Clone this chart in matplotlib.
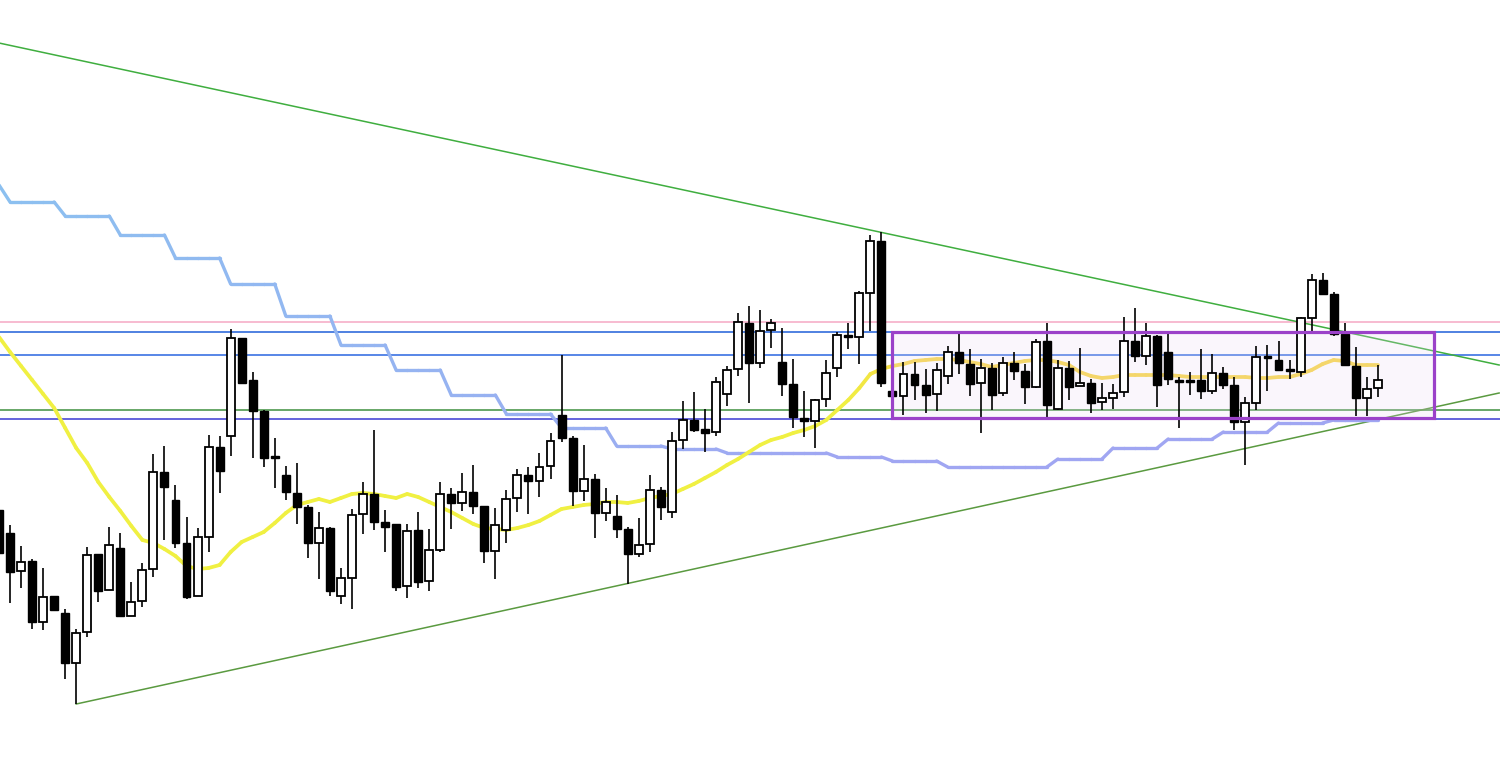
import matplotlib
matplotlib.use("Agg")
import matplotlib.pyplot as plt
from matplotlib.patches import Rectangle
from matplotlib.collections import LineCollection
import numpy as np

# candle prices (open, high, low, close), one entry per bar
opens = [290, 267, 229, 239, 178, 204, 187, 137, 168, 246, 210, 252, 184, 199, 231, 328, 300, 257, 204, 263,
         353, 364, 462, 420, 389, 343.5, 325, 307, 293, 257, 272, 204, 222, 286, 306, 278, 276, 214, 270, 219,
         250, 306, 297, 308, 294, 249, 270, 302, 325, 319, 334, 385, 362, 309, 321, 287, 284, 271, 246, 256,
         310, 288, 360, 380, 371, 368, 406, 431, 477, 437, 470, 438, 416, 382, 379, 401, 432, 464.5, 463, 507,
         559, 409, 404, 426, 415, 406, 424, 448, 436, 417, 432, 407, 437, 429, 413, 459, 391, 432, 414, 417,
         398, 402, 408, 459, 444, 464, 448, 419.5, 419.5, 420, 409, 427, 415, 378, 397, 443.5, 440, 430.5, 428, 482,
         520, 506, 466, 434, 402, 412]
highs = [292, 275, 254, 241, 232, 204, 191, 171, 253, 246, 273, 267, 218, 237, 346, 354, 315, 283, 272, 365,
         364, 471, 462, 428, 390, 362, 334, 337, 295, 288, 273, 232, 291, 318, 370, 290, 276, 276, 288, 271,
         318, 312, 327, 335, 294, 292, 310, 331, 333, 347, 367, 445, 364, 355, 326, 312, 305, 273, 282, 325,
         313, 368, 399, 408, 391, 423, 434, 487, 494, 490, 481, 472, 441, 409, 401, 440, 468, 477, 509, 565,
         568, 409, 438, 438, 431, 437, 454, 466, 451, 441, 437, 443, 448, 436, 461, 477, 440, 439, 452, 421,
         417, 416, 483, 492, 477, 465, 467, 423, 428, 451, 446, 433, 423, 403, 454, 455, 459, 440, 483, 526,
         527, 508, 477, 453, 423, 435]
lows = [247, 197, 212, 171, 170, 190, 121, 96, 163, 198, 210, 184, 184, 193, 223, 260, 252, 201, 204, 248,
        307, 344, 417, 342, 333, 312, 300, 276, 242, 221, 204, 196, 191, 266, 270, 248, 209, 202, 212, 209,
        248, 271, 289, 286, 237, 221, 257, 288, 286, 303, 321, 358, 294, 299, 262, 279, 262, 216, 243, 248,
        280, 282, 351, 368, 348, 364, 394, 424, 397, 432, 452, 404, 372, 363, 352, 393, 423, 451, 436, 469,
        413, 404, 385, 400, 387, 389, 416, 426, 404, 367, 390, 404, 420, 396, 412, 383, 390, 400, 414, 387,
        390, 391, 403, 438, 435, 393, 415, 372, 405, 401, 406, 411, 370, 335, 390, 409, 430, 421, 423, 469,
        506, 464, 434, 384, 384, 403]
closes = [247, 228, 238, 178, 203, 190, 137, 167, 245, 209, 255, 184, 198, 230, 328, 313, 257, 203, 263, 353,
          329, 462, 417, 389, 342, 342.5, 308, 293, 257, 272, 209, 222, 285, 306, 278, 273, 213, 269, 218, 250,
          306, 297, 308, 294, 249, 275, 301, 325, 319, 333, 359, 362, 309, 321, 287, 298, 271, 246, 255, 310,
          293, 359, 380, 370, 367, 418, 430, 478, 437, 469, 477, 416, 383, 379, 400, 427, 465, 463.5, 507, 559,
          417, 404, 426, 415, 405, 430, 448, 437, 416, 432, 405, 437, 429, 413, 458, 395, 432, 413, 417, 397,
          402, 407, 459, 444, 464, 415, 421, 418.5, 418.5, 409, 427, 415, 378, 397, 443, 442.5, 430, 429.5, 482, 520,
          506, 466, 435, 402, 411, 420]

# moving average (yellow) and stepped baseline (blue), one value per bar
ma_line = [463, 448, 434, 420, 406, 392, 372, 352, 337, 318, 303, 289, 274, 260, 257, 251, 244, 234, 231, 232,
           235, 248, 258, 263, 268, 277, 287, 295, 298, 301, 298, 302, 306, 307, 306, 304, 302, 306, 303, 298,
           293, 288, 282, 276, 272, 271, 270, 272, 275, 279, 285, 291, 293, 295, 296, 298, 298, 297, 299, 302,
           304, 306, 311, 316, 322, 328, 335, 341, 348, 355, 360, 363, 367, 370, 374, 380, 390, 400, 412, 426,
           431, 434, 436, 439, 440, 441, 441, 440, 438, 436, 433, 435, 437, 439, 440, 440, 438, 435, 428, 424,
           422, 423, 425, 425, 425, 425, 425, 424, 423, 423, 423, 423, 423, 423, 422, 422, 423, 423, 426, 430,
           436, 440, 439, 435, 435, 435]
base_line = [615, 598, 598, 598, 598, 598, 584, 584, 584, 584, 584, 565, 565, 565, 565, 565, 542, 542, 542, 542,
             542, 516, 516, 516, 516, 516, 484, 484, 484, 484, 484, 455, 455, 455, 455, 455, 430, 430, 430, 430,
             430, 405, 405, 405, 405, 405, 386, 386, 386, 386, 386, 372, 372, 372, 372, 372, 354, 354, 354, 354,
             354, 351, 351, 351, 351, 351, 347, 347, 347, 347, 347, 347, 347, 347, 347, 347, 343, 343, 343, 343,
             343, 339, 339, 339, 339, 339, 333, 333, 333, 333, 333, 333, 333, 333, 333, 333, 341, 341, 341, 341,
             341, 352, 352, 352, 352, 352, 361, 361, 361, 361, 361, 368, 368, 368, 368, 368, 377, 377, 377, 377,
             377, 380, 380, 380, 380, 380]

# horizontal levels
levels = [478.5, 467.7, 445.3, 389.7, 380.7]
level_colors = ["#f5a8c4", "#1f5fd8", "#2a66e0", "#3f8f3f", "#3a3ad2"]

# trendlines: (bar index, price) end points
trend_down = [(0, 757), (136, 435)]
trend_up = [(7, 96), (136, 407)]

# range box: bar span and price span
box_x = (80.96, 130.1)
box_y = (382, 468)

fig = plt.figure(figsize=(15, 7.59), dpi=100)
ax = fig.add_axes([0, 0, 1, 1])
ax.set_xlim(0.09, 136.08)
ax.set_ylim(41, 800)
ax.axis("off")

for lv, col in zip(levels, level_colors):
    ax.axhline(lv, color=col, lw=1.1, zorder=1)

ax.plot(*zip(*trend_down), color="#3fae3f", lw=1.1, zorder=1)
ax.plot(*zip(*trend_up), color="#5a9a40", lw=1.1, zorder=1)

x = np.arange(len(opens))

# blue stepped line with a slight colour shift from left to right
pts = np.column_stack([x, base_line])
segs = np.stack([pts[:-1], pts[1:]], axis=1)
c0 = np.array(matplotlib.colors.to_rgb("#8cc0f0"))
c1 = np.array(matplotlib.colors.to_rgb("#a0a6f2"))
t = np.clip(np.linspace(0, 1, len(segs)) * 1.6, 0, 1)[:, None]
lc = LineCollection(segs, colors=c0 * (1 - t) + c1 * t, linewidths=2.4, capstyle="round", joinstyle="round", zorder=2)
ax.add_collection(lc)

# yellow MA, turning a little golden inside the range box
ma_pts = np.column_stack([x, ma_line])
ma_segs = np.stack([ma_pts[:-1], ma_pts[1:]], axis=1)
y0 = np.array(matplotlib.colors.to_rgb("#f0f042"))
y1 = np.array(matplotlib.colors.to_rgb("#f7d646"))
ty = np.clip((np.arange(len(ma_segs)) - 76) / 6, 0, 1)[:, None]
ax.add_collection(LineCollection(ma_segs, colors=y0 * (1 - ty) + y1 * ty, linewidths=2.7,
                                 capstyle="round", joinstyle="round", zorder=2))

ax.add_patch(Rectangle((box_x[0], box_y[0]), box_x[1] - box_x[0], box_y[1] - box_y[0],
                       facecolor="#ecd8f2", alpha=0.22, edgecolor="none", zorder=3))
ax.add_patch(Rectangle((box_x[0], box_y[0]), box_x[1] - box_x[0], box_y[1] - box_y[0],
                       facecolor="none", edgecolor="#9b42c9", lw=2.3, zorder=5))

w = 0.72
for i in range(len(opens)):
    o, h, l, c = opens[i], highs[i], lows[i], closes[i]
    ax.vlines(i, l, h, color="black", lw=1.2, zorder=4)
    bottom = min(o, c)
    height = max(abs(c - o), 1.2)
    if c >= o:
        ax.add_patch(Rectangle((i - w / 2, bottom), w, height, facecolor="white",
                               edgecolor="black", lw=1.3, zorder=4))
    else:
        ax.add_patch(Rectangle((i - w / 2, bottom), w, height, facecolor="black",
                               edgecolor="black", lw=1.0, zorder=4))

fig.savefig("out.png", dpi=100)
